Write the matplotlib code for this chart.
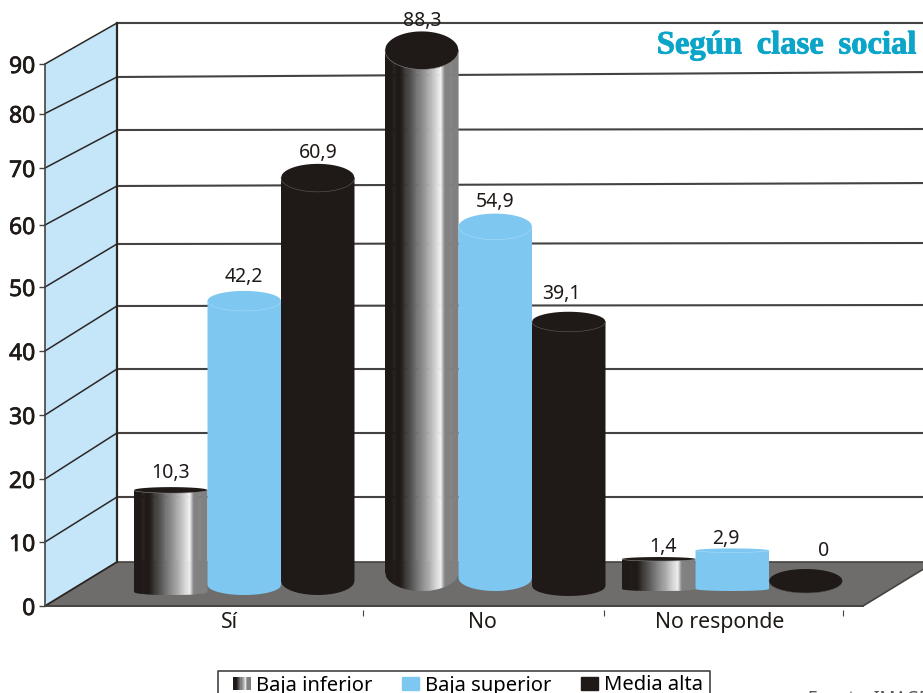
import numpy as np
import matplotlib
matplotlib.use('Agg')
import matplotlib.pyplot as plt
import matplotlib.patheffects as pe
from matplotlib.colors import LinearSegmentedColormap
from matplotlib.legend_handler import HandlerBase
from matplotlib.patches import Patch, Rectangle
from matplotlib.ticker import NullLocator

categories = ['Sí', 'No', 'No responde']
baja_inferior = [10.3, 88.3, 1.4]
baja_superior = [42.2, 54.9, 2.9]
media_alta = [60.9, 39.1, 0]
series_names = ['Baja inferior', 'Baja superior', 'Media alta']
y_ticks = [0, 10, 20, 30, 40, 50, 60, 70, 80, 90]

W, H = 923, 693
FONT = ['Noto Sans', 'DejaVu Sans']
BLACK = '#1f1a17'
BLUE = '#7ec7f1'
WALL = '#c5e5f8'
FLOOR = '#6f6d6b'
LINE = '#454341'

# the printed axis is not evenly spaced, so the scale follows its ticks
front_px = [606, 542, 479, 415, 351, 287, 225, 168, 113.5, 64]
back_px = [562, 497, 433, 369, 306, 244, 186, 130, 77, 23]
back_right_px = [562, 497, 433, 369, 305, 243, 183, 129, 72, 23]

knot_vals = [-13.6] + y_ticks + [102.9]
knot_px = [H] + front_px + [0]
knot_up = [H - p for p in knot_px]


def forward(v):
    return np.interp(v, knot_vals, knot_up)


def inverse(p):
    return np.interp(p, knot_up, knot_vals)


def val(px):
    # image row -> axis value
    return inverse(H - np.asarray(px, dtype=float))


def row(v):
    return H - forward(v)


# cylinders: x start in each group, depth shift of the top, base centre, ellipse height
group_x = [134, 385, 622]
series_dx = [0, 73.5, 147]
cyl_w = 73.5
top_shift = [[50, 36, 42], [22, 30, 35], [38, 37, 25]]
base_row = [[592, 585, 581], [572, 578, 586], [589, 589, 581]]
ell_ry = [[3, 10, 14], [19, 13, 10], [2, 2, 12]]
label_off = [[(0, 17), (0, 24), (0, 25)], [(0, 29), (0, 25), (-7, 28)],
             [(4, 12), (-6, 11), (18, 30)]]

shine = LinearSegmentedColormap.from_list('shine', [
    (0, BLACK), (0.2, BLACK), (0.42, '#6e6e6e'), (0.62, '#b5b5b5'),
    (0.76, '#f2f2f2'), (0.82, '#828282'), (1, '#808080')])
heavy = [pe.withStroke(linewidth=0.5, foreground=BLACK)]


def cylinder(ax, x0, top, base, ry, colour, rim, z):
    xs = np.linspace(x0, x0 + cyl_w, 81)
    c = x0 + cyl_w / 2
    arc = ry * np.sqrt(np.clip(1 - ((xs - c) / (cyl_w / 2)) ** 2, 0, 1))
    if colour == 'shine':
        for i in range(80):
            x_a = xs[i]
            x_b = min(xs[i + 1] + 0.6, x0 + cyl_w)
            low_a = base + arc[i]
            low_b = base + ry * np.sqrt(np.clip(1 - ((x_b - c) / (cyl_w / 2)) ** 2, 0, 1))
            ax.fill([x_a, x_b, x_b, x_a], val([top, top, low_b, low_a]),
                    color=shine(i / 79), lw=0, zorder=z)
        cap = BLACK
    else:
        ax.fill(np.r_[xs, xs[::-1]], val(np.r_[base + arc, np.full(81, top)]),
                color=colour, lw=0, zorder=z)
        cap = colour
    ax.fill(np.r_[xs, xs[::-1]], val(np.r_[top + arc, (top - arc)[::-1]]),
            color=cap, lw=0, zorder=z + 0.1)
    ax.plot(xs, val(top + arc), color=rim, lw=0.4, zorder=z + 0.2)


class GradientHandler(HandlerBase):
    def create_artists(self, legend, orig, xd, yd, width, height, fontsize, trans):
        boxes = []
        for i in range(16):
            boxes.append(Rectangle((-xd + width * i / 16, -yd), width / 16 + 0.3, height,
                                   color=shine(i / 15), lw=0, transform=trans))
        return boxes


fig = plt.figure(figsize=(W / 100, H / 100), dpi=100)
ax = fig.add_axes([0, 0, 1, 1])
ax.set_yscale('function', functions=(forward, inverse))
ax.set_xlim(0, W)
ax.set_ylim(-13.6, 102.9)
ax.patch.set_visible(False)

# side wall, floor
ax.fill([45, 117, 117, 45], [0, val(back_px[0]), val(back_px[-1]), 90], color=WALL, lw=0, zorder=1)
ax.fill([45, 863, 935, 117], [0, 0, val(562), val(562)], facecolor=FLOOR, edgecolor=LINE, lw=1.2, zorder=1.5)

for i, v in enumerate(y_ticks):
    ax.plot([45, 117], [v, val(back_px[i])], color='#2b2725', lw=1.1, zorder=2)
    if i > 0:
        ax.plot([117, 935], val([back_px[i], back_right_px[i]]), color=LINE, lw=1.5, zorder=2)
ax.plot([117, 117], val([562, 23]), color='#2b2725', lw=1.6, zorder=2.1)

series = [baja_inferior, baja_superior, media_alta]
looks = [('shine', '#8a8a8a'), (BLUE, '#a9dbf7'), (BLACK, '#5f5d5b')]
z = 3
for g in range(len(categories)):
    for s in range(len(series)):
        value = series[s][g]
        x0 = group_x[g] + series_dx[s]
        top = row(value) - top_shift[g][s]
        cylinder(ax, x0, top, max(base_row[g][s], top), ell_ry[g][s], looks[s][0], looks[s][1], z)
        z += 1
        dx, dy = label_off[g][s]
        ax.text(x0 + cyl_w / 2 + dx, val(top - dy), str(value).replace('.', ','),
                ha='center', va='center', fontsize=14, color=BLACK, family=FONT, zorder=30)

# real axis lines and ticks
for side in ['top', 'right']:
    ax.spines[side].set_visible(False)
ax.spines['left'].set_position(('data', 45))
ax.spines['left'].set_bounds(0, 90)
ax.spines['bottom'].set_position(('data', 0))
ax.spines['bottom'].set_bounds(45, 863)
for side in ['left', 'bottom']:
    ax.spines[side].set_color(LINE)
    ax.spines[side].set_linewidth(1.2)
    ax.spines[side].set_zorder(2.5)
ax.set_yticks(y_ticks)
ax.yaxis.set_minor_locator(NullLocator())
ax.tick_params(axis='y', length=4, width=1, color=LINE, pad=3, labelsize=16.5, labelcolor=BLACK)
ax.set_xticks([230, 482, 720], categories)
ax.tick_params(axis='x', length=0, pad=4.5, labelsize=15.3, labelcolor=BLACK)
for t in ax.get_xticklabels() + ax.get_yticklabels():
    t.set_family(FONT)
for t in ax.get_yticklabels():
    t.set_path_effects(heavy)
ax.plot([363, 604, 843], val([612.5, 612.5, 612.5]), ls='none', marker='|', ms=4, mew=0.8, color=LINE, zorder=2)

ax.text(916, val(45), 'Según \u2009clase \u2009social', ha='right', va='center', fontsize=23.5,
        fontweight='bold', family='Liberation Serif', color='#0aa5c9', zorder=30,
        path_effects=[pe.withStroke(linewidth=0.6, foreground='#0aa5c9')])

# legend box runs off the bottom of the picture, as in the original
ax.plot([218, 218, 710, 710], val([700, 670.5, 670.5, 700]), color=LINE, lw=1.2, zorder=39)
handles = [Patch(label=series_names[0]), Patch(color=BLUE, label=series_names[1]),
           Patch(color=BLACK, label=series_names[2])]
leg = ax.legend(handles=handles, handler_map={handles[0]: GradientHandler()}, ncol=3,
                loc='upper left', bbox_to_anchor=(233 / W, 1 - 675.5 / H), bbox_transform=ax.transAxes,
                borderaxespad=0, frameon=False, prop={'family': FONT, 'size': 14.5},
                handlelength=0.85, handleheight=0.65, handletextpad=0.3,
                columnspacing=1.47, borderpad=0)
leg.set_zorder(40)

ax.text(808, val(689.5), 'Fuente: IMAGEN', ha='left', va='top', fontsize=12.5, color='#555555',
        family=FONT, clip_on=True)

fig.savefig('out.png', dpi=100)
